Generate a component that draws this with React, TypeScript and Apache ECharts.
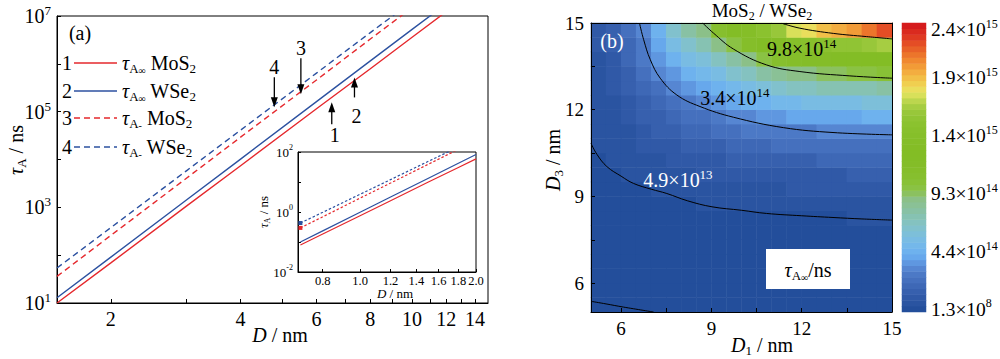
import React, { useEffect, useRef } from "react";
import * as echarts from "echarts";

const SERIF = "Liberation Serif";
const RED = "#e5282d";
const BLUE = "#2c51a0";

// ---------------- Panel (a): tau_A vs D (log-log) ----------------
const dMain = [1.5, 2, 3, 4, 6, 8, 10, 12];
const tauInfMoS2 = [10, 69, 1070, 7400, 1.15e5, 7.9e5, 3.6e6, 1.23e7];
const tauInfWSe2 = [12.9, 91, 1440, 1.02e4, 1.62e5, 1.15e6, 5.25e6, 1.8e7];
const tauMinMoS2 = [36, 259, 4100, 2.93e4, 4.6e5, 3.3e6, 1.5e7, 5.2e7];
const tauMinWSe2 = [54, 377, 5870, 4.1e4, 6.4e5, 4.5e6, 2.0e7, 6.9e7];

const mainXLabelValues = [2, 4, 6, 8, 10, 12, 14];
const mainXTickValues = [2, 3, 4, 5, 6, 7, 8, 9, 10, 11, 12, 13, 14];
const mainYLabelValues = [1e1, 1e3, 1e5, 1e7];
const mainYTickValues = [1e1, 1e2, 1e3, 1e4, 1e5, 1e6, 1e7];

// inset
const dInset = [0.7, 0.8, 1.0, 1.2, 1.5, 1.8, 2.0];
const insetInfMoS2 = [0.079, 0.185, 0.75, 2.38, 9.8, 30.5, 59];
const insetInfWSe2 = [0.1, 0.235, 0.98, 3.15, 13.1, 42.3, 83];
const insetMinMoS2 = [0.295, 0.69, 2.9, 9.2, 38.5, 123, 240];
const insetMinWSe2 = [0.43, 0.975, 3.9, 12, 48, 147, 280];
const insetXLabelValues = [0.8, 1.0, 1.2, 1.4, 1.6, 1.8, 2.0];
const insetYLabelValues = [0.01, 1, 100];
const insetYTickValues = [0.01, 0.1, 1, 10, 100];

// legend
const legendNumbers = ["1", "2", "3", "4"];
const legendSub = ["∞", "∞", "-", "-"];
const legendMaterial = ["MoS", "WSe", "MoS", "WSe"];

// arrows (tip in data coords)
const arrowLabels = ["4", "3", "1", "2"];
const arrowTipD = [4.79, 5.52, 6.51, 7.35];
const arrowTipTau = [1.23e5, 2.3e5, 1.57e5, 5.2e5];
const arrowDown = [true, true, false, false];

// ---------------- Panel (b): contour map ----------------
const d1Centers = [5.25, 5.75, 6.25, 6.75, 7.25, 7.75, 8.25, 8.75, 9.25, 9.75, 10.25, 10.75, 11.25, 11.75, 12.25, 12.75, 13.25, 13.75, 14.25, 14.75];
const d3Centers = [5.25, 5.75, 6.25, 6.75, 7.25, 7.75, 8.25, 8.75, 9.25, 9.75, 10.25, 10.75, 11.25, 11.75, 12.25, 12.75, 13.25, 13.75, 14.25, 14.75];
// tau (units of 1e14 ns); rows bottom (D3=5.25) to top (D3=14.75)
const tauGrid = [
  [0.001, 0.003, 0.006, 0.01, 0.01, 0.02, 0.02, 0.02, 0.02, 0.02, 0.02, 0.03, 0.03, 0.03, 0.03, 0.03, 0.03, 0.03, 0.03, 0.03],
  [0.01, 0.01, 0.02, 0.02, 0.02, 0.03, 0.03, 0.03, 0.04, 0.04, 0.04, 0.04, 0.04, 0.05, 0.05, 0.05, 0.05, 0.05, 0.05, 0.05],
  [0.02, 0.03, 0.03, 0.04, 0.04, 0.05, 0.05, 0.06, 0.06, 0.07, 0.07, 0.07, 0.08, 0.08, 0.08, 0.08, 0.09, 0.09, 0.09, 0.09],
  [0.03, 0.04, 0.05, 0.06, 0.07, 0.08, 0.09, 0.10, 0.11, 0.11, 0.12, 0.12, 0.13, 0.13, 0.13, 0.14, 0.14, 0.14, 0.14, 0.15],
  [0.05, 0.07, 0.09, 0.10, 0.12, 0.13, 0.14, 0.16, 0.17, 0.18, 0.19, 0.20, 0.20, 0.21, 0.21, 0.22, 0.22, 0.22, 0.23, 0.23],
  [0.08, 0.11, 0.13, 0.15, 0.17, 0.19, 0.22, 0.24, 0.26, 0.28, 0.29, 0.30, 0.31, 0.32, 0.33, 0.33, 0.34, 0.34, 0.35, 0.35],
  [0.12, 0.16, 0.20, 0.23, 0.26, 0.29, 0.33, 0.36, 0.39, 0.42, 0.44, 0.45, 0.46, 0.47, 0.47, 0.48, 0.48, 0.51, 0.52, 0.52],
  [0.15, 0.21, 0.27, 0.32, 0.36, 0.41, 0.47, 0.52, 0.56, 0.60, 0.63, 0.66, 0.68, 0.69, 0.71, 0.72, 0.73, 0.74, 0.75, 0.76],
  [0.20, 0.28, 0.36, 0.44, 0.50, 0.57, 0.65, 0.72, 0.78, 0.85, 0.90, 0.93, 0.96, 0.99, 1.01, 1.03, 1.05, 1.06, 1.07, 1.08],
  [0.24, 0.36, 0.53, 0.58, 0.68, 0.77, 0.88, 0.98, 1.07, 1.17, 1.24, 1.29, 1.34, 1.38, 1.41, 1.44, 1.46, 1.48, 1.50, 1.51],
  [0.30, 0.52, 0.61, 0.77, 0.90, 1.03, 1.17, 1.31, 1.45, 1.57, 1.68, 1.77, 1.83, 1.89, 1.93, 1.97, 2.01, 2.04, 2.06, 2.08],
  [0.52, 0.55, 0.77, 0.98, 1.18, 1.35, 1.53, 1.73, 1.92, 2.10, 2.26, 2.38, 2.47, 2.55, 2.62, 2.68, 2.73, 2.77, 2.81, 2.84],
  [0.56, 0.65, 0.94, 1.25, 1.51, 1.74, 1.98, 2.25, 2.51, 2.74, 2.97, 3.15, 3.28, 3.39, 3.41, 3.57, 3.64, 3.70, 3.75, 3.79],
  [0.60, 0.76, 1.13, 1.53, 1.90, 2.21, 2.52, 2.87, 3.23, 3.54, 3.85, 4.11, 4.30, 4.45, 4.58, 4.69, 4.79, 4.87, 4.95, 5.00],
  [0.66, 0.90, 1.34, 1.86, 2.36, 2.79, 3.19, 3.63, 4.10, 4.53, 4.93, 5.29, 5.57, 5.78, 5.96, 6.11, 6.24, 6.36, 6.46, 6.54],
  [0.72, 1.04, 1.54, 2.20, 2.87, 3.45, 3.97, 4.52, 5.12, 5.70, 6.23, 6.72, 7.11, 7.40, 7.65, 7.86, 8.03, 8.19, 8.32, 8.44],
  [0.80, 1.18, 1.75, 2.58, 3.46, 4.24, 4.91, 5.58, 6.36, 7.13, 7.80, 8.47, 9.03, 9.42, 9.74, 10.0, 10.2, 10.5, 10.6, 10.8],
  [0.89, 1.34, 2.00, 2.96, 4.08, 5.09, 5.99, 6.83, 7.78, 8.77, 9.66, 10.5, 11.3, 11.8, 12.3, 12.6, 12.9, 13.2, 13.5, 13.7],
  [1.00, 1.52, 2.26, 3.35, 4.72, 6.08, 7.24, 8.31, 9.47, 10.7, 11.9, 12.9, 13.9, 14.7, 15.3, 15.8, 16.2, 16.6, 16.9, 17.2],
  [1.09, 1.68, 2.50, 3.69, 5.38, 7.15, 8.66, 9.60, 11.4, 12.9, 14.5, 15.8, 17.1, 18.2, 18.8, 19.6, 20.2, 21.0, 21.8, 22.6],
];

// contour lines [D1, D3]
const contour49e13 = [[5, 10.84], [5.2, 10.45], [5.53, 10.03], [6, 9.7], [6.41, 9.45], [7, 9.25], [7.52, 9.1], [8.2, 8.85], [9.02, 8.64], [10, 8.52], [10.83, 8.41], [12, 8.33], [13.04, 8.27], [14, 8.22], [15, 8.18]];
const contour34e14 = [[6.61, 15], [6.75, 14.42], [6.97, 13.73], [7.3, 13.09], [7.85, 12.51], [8.62, 12.11], [9.73, 11.74], [11.39, 11.38], [13.04, 11.21], [15, 11.13]];
const contour98e14 = [[8.71, 15], [9.07, 14.65], [9.73, 14.1], [10.83, 13.55], [11.94, 13.32], [13.6, 13.17], [15, 13.09]];
const contour19e15 = [[11.34, 14.99], [11.94, 14.82], [13.05, 14.64], [14.15, 14.53], [15, 14.45]];
const contourLow = [[5, 5.37], [5.5, 5.28], [6.08, 5.17], [7.08, 5.0]];

const contourLabelMant = ["4.9", "3.4", "9.8"];
const contourLabelExp = ["13", "14", "14"];
const contourLabelD1 = [7.89, 9.78, 12.0];
const contourLabelD3 = [9.57, 12.4, 14.1];
const contourLabelColor = ["#fff", "#000", "#000"];

const rightTickLabels = [6, 9, 12, 15];
const rightTicks = [6, 7.5, 9, 10.5, 12, 13.5, 15];

// colour levels (step 0.49e14)
const levelStep = 0.49;
const levelColors = [
  "#234e9b", "#2a54a1", "#3059a7", "#3760ae", "#3e68b6", "#4570be", "#4c79c6", "#5686d2", "#5f97e0", "#67a8ec",
  "#6eb2ee", "#74b8ea", "#79bce3", "#7dbfd9", "#81c1cd", "#84c2c0", "#86c2b2", "#88c1a4", "#8ac196", "#8bc088",
  "#8bc160", "#8ac244", "#88c136", "#86bf2e", "#85be2a", "#84bd28", "#83bd26", "#83bd25", "#84bd26", "#85be28",
  "#86bf2a", "#88c02c", "#8bc22f", "#90c434", "#98c73a", "#a6cd42", "#bcd64e", "#d8e05a", "#eade5c", "#f0cf50",
  "#f2bf48", "#f3ad40", "#f29b37", "#f08830", "#ec752b", "#e86128", "#e44d25", "#df3a22", "#da2a1f", "#d51b1c",
];
const cbTickIndex = [0, 10, 20, 30, 40, 49];
const cbTickMant = ["1.3", "4.4", "9.3", "1.4", "1.9", "2.4"];
const cbTickExp = ["8", "14", "14", "15", "15", "15"];

function rich(base: number, color: string) {
  const small = Math.round(base * 0.64);
  const tiny = Math.round(base * 0.48);
  return {
    r: { fontFamily: SERIF, fontSize: base, lineHeight: base + 4, color },
    it: { fontFamily: SERIF, fontSize: base, lineHeight: base + 4, fontStyle: "italic", color },
    sup: { fontFamily: SERIF, fontSize: small, lineHeight: small, verticalAlign: "top", color },
    sub: { fontFamily: SERIF, fontSize: small, lineHeight: small, verticalAlign: "bottom", color },
    tsub: { fontFamily: SERIF, fontSize: tiny, lineHeight: tiny, verticalAlign: "bottom", color },
  };
}

const pairs = (xs: number[], ys: number[]) => xs.map((x, i) => [x, ys[i]]);

function buildOption(): any {
  const black = { color: "#000", width: 1 };
  const logLabel = (v: number) => `{r|10}{sup|${Math.round(Math.log10(v))}}`;

  const mainLine = (name: string, ys: number[], color: string, dashed: boolean) => ({
    type: "line", name, xAxisIndex: 0, yAxisIndex: 0, data: pairs(dMain, ys),
    symbol: "none", clip: true, lineStyle: { color, width: 1.4, type: dashed ? [6, 4] : "solid" },
  });
  const insetLine = (name: string, ys: number[], color: string, dashed: boolean) => ({
    type: "line", name, xAxisIndex: 1, yAxisIndex: 1, data: pairs(dInset, ys),
    symbol: "rect", symbolSize: (_v: any, p: any) => (dashed && p.dataIndex === 0 ? 4 : 0),
    itemStyle: { color }, clip: true, lineStyle: { color, width: 1.2, type: dashed ? [2.5, 2] : "solid" },
  });
  const contourLine = (data: number[][]) => ({
    type: "line", xAxisIndex: 3, yAxisIndex: 3, data, symbol: "none", smooth: 0.4, clip: true, z: 5,
    lineStyle: { color: "#000", width: 1 },
  });

  const heatData: number[][] = [];
  tauGrid.forEach((row, j) => row.forEach((v, i) => heatData.push([i, j, v])));

  const pieces = levelColors.map((c, k) =>
    k < levelColors.length - 1
      ? { gte: k * levelStep, lt: (k + 1) * levelStep, color: c }
      : { gte: k * levelStep, color: c }
  );

  return {
    animation: false,
    backgroundColor: "#fff",
    textStyle: { fontFamily: SERIF },
    grid: [
      { left: 57, top: 16, width: 431, height: 287, show: true, borderColor: "#000", borderWidth: 1, backgroundColor: "transparent" },
      { left: 298, top: 152, width: 178, height: 120, show: true, borderColor: "#000", borderWidth: 1, backgroundColor: "#fff" },
      { left: 591, top: 23, width: 301, height: 289 },
      { left: 591, top: 23, width: 301, height: 289 },
      { left: 902, top: 23, width: 24, height: 289 },
    ],
    xAxis: [
      {
        gridIndex: 0, type: "log", logBase: 10, min: 1.5, max: 15,
        axisLine: { show: true, lineStyle: black },
        axisTick: { show: true, inside: true, length: 4, customValues: mainXTickValues, lineStyle: black },
        axisLabel: { customValues: mainXLabelValues, fontFamily: SERIF, fontSize: 20, color: "#000", margin: 6 },
        splitLine: { show: false }, minorTick: { show: false },
      },
      {
        gridIndex: 1, type: "log", logBase: 10, min: 0.69, max: 2.0,
        axisLine: { show: true, lineStyle: black },
        axisTick: { show: true, inside: true, length: 3, customValues: insetXLabelValues, lineStyle: black },
        axisLabel: { customValues: insetXLabelValues, fontFamily: SERIF, fontSize: 12.5, color: "#000", margin: 2, formatter: (v: number) => v.toFixed(1) },
        splitLine: { show: false },
      },
      { gridIndex: 2, type: "category", data: d1Centers.map(String), show: false },
      {
        gridIndex: 3, type: "value", min: 5, max: 15, z: 10,
        axisLine: { show: true, lineStyle: black },
        axisTick: { show: true, inside: true, length: 4, customValues: rightTicks, lineStyle: black },
        axisLabel: { customValues: rightTickLabels, fontFamily: SERIF, fontSize: 19, color: "#000", margin: 7 },
        splitLine: { show: false },
      },
      { gridIndex: 4, type: "category", data: ["c"], show: false },
      { gridIndex: 3, type: "value", min: 5, max: 15, position: "top", z: 10, axisLine: { show: true, lineStyle: black }, axisTick: { show: false }, axisLabel: { show: false }, splitLine: { show: false } },
    ],
    yAxis: [
      {
        gridIndex: 0, type: "log", logBase: 10, min: 10, max: 1e7,
        axisLine: { show: true, lineStyle: black },
        axisTick: { show: true, inside: true, length: 4, customValues: mainYTickValues, lineStyle: black },
        axisLabel: { customValues: mainYLabelValues, formatter: logLabel, rich: rich(20, "#000"), margin: 6 },
        splitLine: { show: false },
      },
      {
        gridIndex: 1, type: "log", logBase: 10, min: 0.01, max: 100,
        axisLine: { show: true, lineStyle: black },
        axisTick: { show: true, inside: true, length: 3, customValues: insetYTickValues, lineStyle: black },
        axisLabel: { customValues: insetYLabelValues, formatter: logLabel, rich: rich(13, "#000"), margin: 5 },
        splitLine: { show: false },
      },
      { gridIndex: 2, type: "category", data: d3Centers.map(String), show: false },
      {
        gridIndex: 3, type: "value", min: 5, max: 15, z: 10,
        axisLine: { show: true, lineStyle: black },
        axisTick: { show: true, inside: true, length: 4, customValues: rightTicks, lineStyle: black },
        axisLabel: { customValues: rightTickLabels, fontFamily: SERIF, fontSize: 19, color: "#000", margin: 7 },
        splitLine: { show: false },
      },
      {
        gridIndex: 4, type: "category", position: "right", data: levelColors.map((_, k) => String(k)),
        axisLine: { show: false }, axisTick: { show: false }, axisLabel: { show: false },
      },
      { gridIndex: 3, type: "value", min: 5, max: 15, position: "right", z: 10, axisLine: { show: true, lineStyle: black }, axisTick: { show: false }, axisLabel: { show: false }, splitLine: { show: false } },
    ],
    visualMap: { type: "piecewise", show: false, seriesIndex: [8, 14], pieces },
    series: [
      mainLine("tauInf MoS2", tauInfMoS2, RED, false),
      mainLine("tauInf WSe2", tauInfWSe2, BLUE, false),
      mainLine("tauMinus MoS2", tauMinMoS2, RED, true),
      mainLine("tauMinus WSe2", tauMinWSe2, BLUE, true),
      insetLine("inset tauInf MoS2", insetInfMoS2, RED, false),
      insetLine("inset tauInf WSe2", insetInfWSe2, BLUE, false),
      insetLine("inset tauMinus MoS2", insetMinMoS2, RED, true),
      insetLine("inset tauMinus WSe2", insetMinWSe2, BLUE, true),
      { type: "heatmap", xAxisIndex: 2, yAxisIndex: 2, data: heatData, itemStyle: { borderWidth: 0 }, emphasis: { disabled: true }, progressive: 0 },
      contourLine(contour49e13),
      contourLine(contour34e14),
      contourLine(contour98e14),
      contourLine(contour19e15),
      contourLine(contourLow),
      {
        type: "heatmap", xAxisIndex: 4, yAxisIndex: 4, emphasis: { disabled: true },
        data: levelColors.map((_, k) => [0, k, (k + 0.5) * levelStep]),
      },
    ],
  };
}

function text(x: number, y: number, t: string, size: number, color = "#000", extra: any = {}, align = "center") {
  return {
    type: "text", x, y, z: 100, ...extra,
    style: { text: t, fontFamily: SERIF, fontSize: size, fill: color, align, verticalAlign: "middle", rich: rich(size, color) },
  };
}

function buildGraphic(chart: any): any[] {
  const g: any[] = [];
  // panel (a)
  g.push(text(80, 33, "{r|(a)}", 20));
  const legendY = [63, 91, 118, 147];
  legendNumbers.forEach((n, i) => {
    const color = i % 2 === 0 ? RED : BLUE;
    const dashed = i >= 2;
    g.push(text(67, legendY[i], `{r|${n}}`, 20));
    g.push({ type: "line", z: 100, shape: { x1: 74, y1: legendY[i], x2: 117, y2: legendY[i] }, style: { stroke: color, lineWidth: 1.4, lineDash: dashed ? [6, 4] : null } });
    g.push(text(122, legendY[i], `{it|τ}{sub|A}{tsub|${legendSub[i]}}{r| ${legendMaterial[i]}}{sub|2}`, 20, "#000", {}, "left"));
  });
  g.push(text(16, 150, "{it|τ}{sub|A}{r| / ns}", 20, "#000", { rotation: Math.PI / 2 }));
  g.push(text(280, 335, "{it|D}{r| / nm}", 20));
  g.push(text(263, 212, "{it|τ}{sub|A}{r| / ns}", 13, "#000", { rotation: Math.PI / 2 }));
  g.push(text(395, 293, "{it|D}{r| / nm}", 13));

  const arrowLen = [30, 36, 22, 20];
  const labelDist = [40, 46, 33, 39];
  const labelDx = [0, 0, 3, 2];
  arrowLabels.forEach((lab, i) => {
    const p = chart.convertToPixel({ gridIndex: 0 }, [arrowTipD[i], arrowTipTau[i]]);
    if (!p) return;
    const [tx, ty] = p;
    const s = arrowDown[i] ? -1 : 1;
    g.push({ type: "line", z: 100, shape: { x1: tx, y1: ty + s * 8, x2: tx, y2: ty + s * arrowLen[i] }, style: { stroke: "#000", lineWidth: 1.3 } });
    g.push({ type: "polygon", z: 100, shape: { points: [[tx - 3.5, ty + s * 10], [tx + 3.5, ty + s * 10], [tx, ty]] }, style: { fill: "#000" } });
    g.push(text(tx + labelDx[i], ty + s * labelDist[i], `{r|${lab}}`, 20));
  });

  // panel (b)
  g.push(text(762, 10, "{r|MoS}{sub|2}{r| / WSe}{sub|2}", 19));
  g.push(text(612, 41, "{r|(b)}", 20, "#fff"));
  g.push(text(553, 160, "{it|D}{sub|3}{r| / nm}", 20, "#000", { rotation: Math.PI / 2 }));
  g.push(text(762, 345, "{it|D}{sub|1}{r| / nm}", 20));
  g.push({ type: "rect", z: 100, shape: { x: 766, y: 249, width: 84, height: 40 }, style: { fill: "#fff" } });
  g.push(text(808, 270, "{it|τ}{sub|A}{tsub|∞}{r|/ns}", 20));
  contourLabelMant.forEach((m, i) => {
    const p = chart.convertToPixel({ gridIndex: 3 }, [contourLabelD1[i], contourLabelD3[i]]);
    if (!p) return;
    g.push(text(p[0], p[1], `{r|${m}×10}{sup|${contourLabelExp[i]}}`, 20, contourLabelColor[i]));
  });
  // colour bar tick labels, placed at their band through the colour-bar axes
  cbTickIndex.forEach((idx, t) => {
    const p = chart.convertToPixel({ gridIndex: 4 }, [0, idx]);
    if (!p) return;
    const y = idx === levelColors.length - 1 ? p[1] + 4 : p[1];
    g.push(text(931, y, `{r|${cbTickMant[t]}×10}{sup|${cbTickExp[t]}}`, 19.5, "#000", {}, "left"));
  });
  return g;
}

export default function App() {
  const ref = useRef<HTMLDivElement>(null);
  useEffect(() => {
    const chart = echarts.init(ref.current!, undefined, { renderer: "svg" });
    chart.setOption(buildOption());
    chart.setOption({ graphic: buildGraphic(chart) });
    return () => chart.dispose();
  }, []);
  return <div ref={ref} style={{ position: "fixed", left: 0, top: 0, width: 1000, height: 359, background: "#fff" }} />;
}
